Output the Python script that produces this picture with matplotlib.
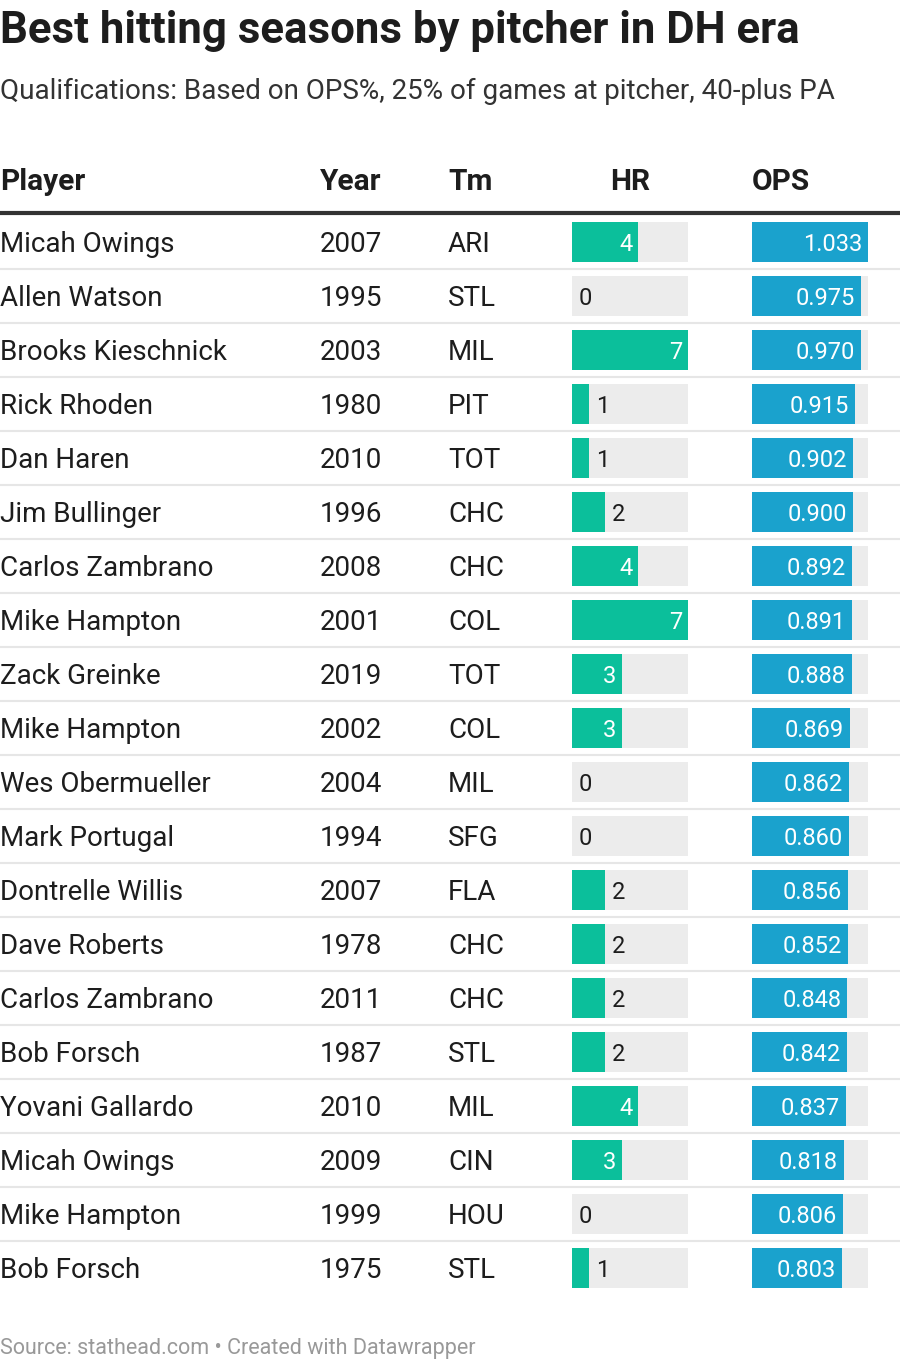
import matplotlib.pyplot as plt
from matplotlib.patches import Rectangle

players = ["Micah Owings", "Allen Watson", "Brooks Kieschnick", "Rick Rhoden", "Dan Haren",
           "Jim Bullinger", "Carlos Zambrano", "Mike Hampton", "Zack Greinke", "Mike Hampton",
           "Wes Obermueller", "Mark Portugal", "Dontrelle Willis", "Dave Roberts", "Carlos Zambrano",
           "Bob Forsch", "Yovani Gallardo", "Micah Owings", "Mike Hampton", "Bob Forsch"]
years = [2007, 1995, 2003, 1980, 2010, 1996, 2008, 2001, 2019, 2002,
         2004, 1994, 2007, 1978, 2011, 1987, 2010, 2009, 1999, 1975]
teams = ["ARI", "STL", "MIL", "PIT", "TOT", "CHC", "CHC", "COL", "TOT", "COL",
         "MIL", "SFG", "FLA", "CHC", "CHC", "STL", "MIL", "CIN", "HOU", "STL"]
hr = [4, 0, 7, 1, 1, 2, 4, 7, 3, 3, 0, 0, 2, 2, 2, 2, 4, 3, 0, 1]
ops = [1.033, 0.975, 0.970, 0.915, 0.902, 0.900, 0.892, 0.891, 0.888, 0.869,
       0.862, 0.860, 0.856, 0.852, 0.848, 0.842, 0.837, 0.818, 0.806, 0.803]

plt.rcParams['font.family'] = ['Roboto', 'DejaVu Sans']
GREEN = "#0bbf9b"
BLUE = "#1aa2cd"
GREY = "#ececec"
DARK = "#1d1d1d"

fig = plt.figure(figsize=(9, 13.6), dpi=100)
ax = fig.add_axes([0, 0, 1, 1])
ax.set_xlim(0, 900)
ax.set_ylim(1360, 0)
ax.axis("off")

ax.text(0, 27, "Best hitting seasons by pitcher in DH era", fontsize=31.5, fontweight="bold",
        color=DARK, va="center_baseline")
ax.text(0, 88, "Qualifications: Based on OPS%, 25% of games at pitcher, 40-plus PA",
        fontsize=20, color="#333333", va="center_baseline")

hy = 179
ax.text(0, hy, "Player", fontsize=21.5, fontweight="bold", color=DARK, va="center_baseline")
ax.text(320, hy, "Year", fontsize=21.5, fontweight="bold", color=DARK, va="center_baseline")
ax.text(448, hy, "Tm", fontsize=21.5, fontweight="bold", color=DARK, va="center_baseline")
ax.text(630, hy, "HR", fontsize=21.5, fontweight="bold", color=DARK, va="center_baseline", ha="center")
ax.text(752, hy, "OPS", fontsize=21.5, fontweight="bold", color=DARK, va="center_baseline")
ax.plot([0, 900], [213, 213], color="#333333", lw=3, solid_capstyle="butt")

hr_x, hr_w, hr_max = 572, 116, max(hr)
ops_x, ops_w, ops_max = 752, 116, max(ops)
row_h, bar_h = 54, 40
for i in range(len(players)):
    yc = 242 + i * row_h
    fs = 20
    ax.text(0, yc, players[i], fontsize=fs, color=DARK, va="center_baseline")
    ax.text(320, yc, str(years[i]), fontsize=fs, color=DARK, va="center_baseline")
    ax.text(448, yc, teams[i], fontsize=fs, color=DARK, va="center_baseline")

    ax.add_patch(Rectangle((hr_x, yc - bar_h / 2), hr_w, bar_h, color=GREY, lw=0))
    w = hr_w * hr[i] / hr_max
    ax.add_patch(Rectangle((hr_x, yc - bar_h / 2), w, bar_h, color=GREEN, lw=0))
    if hr[i] >= 3:
        ax.text(hr_x + w - 6, yc, str(hr[i]), fontsize=17, color="white", va="center_baseline", ha="right")
    else:
        ax.text(hr_x + w + 7, yc, str(hr[i]), fontsize=17, color=DARK, va="center_baseline", ha="left")

    ax.add_patch(Rectangle((ops_x, yc - bar_h / 2), ops_w, bar_h, color=GREY, lw=0))
    w = ops_w * ops[i] / ops_max
    ax.add_patch(Rectangle((ops_x, yc - bar_h / 2), w, bar_h, color=BLUE, lw=0))
    ax.text(ops_x + w - 6, yc, f"{ops[i]:.3f}", fontsize=17, color="white", va="center_baseline", ha="right")

    if i < len(players) - 1:
        ax.plot([0, 900], [yc + row_h / 2, yc + row_h / 2], color="#e6e6e6", lw=1.5)

ax.text(0, 1346, "Source: stathead.com • Created with Datawrapper", fontsize=15.5,
        color="#999999", va="center_baseline")

fig.savefig("out.png", dpi=100)
